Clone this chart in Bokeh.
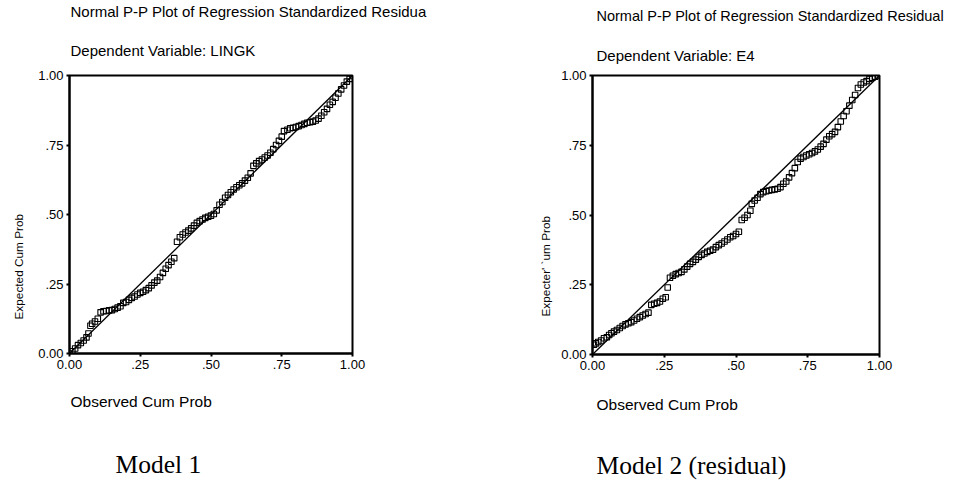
from bokeh.plotting import figure
from bokeh.layouts import row
from bokeh.models import Range1d, FixedTicker, Title
from bokeh.embed import file_html
from bokeh.resources import INLINE

# ---- data ----
ticks = [0.0, 0.25, 0.5, 0.75, 1.0]
tick_labels = ["0.00", ".25", ".50", ".75", "1.00"]
diag = [0.0, 1.0]

m1_obs = [0.000, 0.010, 0.020, 0.030, 0.040, 0.050, 0.060, 0.067, 0.074, 0.080,
          0.090, 0.100, 0.110, 0.120, 0.130, 0.140, 0.150, 0.160, 0.170, 0.180,
          0.190, 0.200, 0.210, 0.220, 0.230, 0.240, 0.250, 0.260, 0.270, 0.280,
          0.290, 0.300, 0.310, 0.320, 0.330, 0.340, 0.350, 0.360, 0.370, 0.380,
          0.390, 0.400, 0.410, 0.420, 0.430, 0.440, 0.450, 0.460, 0.470, 0.480,
          0.490, 0.500, 0.510, 0.520, 0.530, 0.540, 0.550, 0.560, 0.570, 0.580,
          0.590, 0.600, 0.610, 0.620, 0.630, 0.640, 0.650, 0.660, 0.670, 0.680,
          0.690, 0.700, 0.710, 0.720, 0.730, 0.740, 0.750, 0.758, 0.770, 0.780,
          0.790, 0.800, 0.810, 0.820, 0.830, 0.840, 0.850, 0.860, 0.870, 0.880,
          0.890, 0.900, 0.910, 0.920, 0.930, 0.940, 0.950, 0.960, 0.970, 0.980,
          0.990, 1.000]
m1_exp = [0.000, 0.008, 0.018, 0.030, 0.038, 0.047, 0.058, 0.072, 0.100, 0.107,
          0.115, 0.125, 0.148, 0.152, 0.153, 0.155, 0.156, 0.160, 0.165, 0.170,
          0.182, 0.185, 0.193, 0.200, 0.205, 0.212, 0.218, 0.222, 0.228, 0.235,
          0.245, 0.255, 0.262, 0.275, 0.290, 0.305, 0.318, 0.330, 0.343, 0.402,
          0.418, 0.428, 0.435, 0.442, 0.450, 0.460, 0.470, 0.476, 0.482, 0.488,
          0.492, 0.496, 0.502, 0.515, 0.535, 0.545, 0.560, 0.570, 0.580, 0.590,
          0.598, 0.605, 0.612, 0.622, 0.632, 0.648, 0.675, 0.684, 0.692, 0.698,
          0.705, 0.712, 0.722, 0.735, 0.750, 0.765, 0.780, 0.800, 0.805, 0.810,
          0.812, 0.815, 0.818, 0.822, 0.826, 0.830, 0.832, 0.834, 0.838, 0.845,
          0.855, 0.868, 0.880, 0.895, 0.905, 0.920, 0.935, 0.950, 0.964, 0.978,
          0.988, 0.998]

m2_obs = [0.005, 0.012, 0.020, 0.030, 0.040, 0.050, 0.058, 0.066, 0.075, 0.085,
          0.095, 0.105, 0.115, 0.125, 0.135, 0.145, 0.155, 0.165, 0.175, 0.185,
          0.195, 0.205, 0.215, 0.225, 0.235, 0.245, 0.255, 0.262, 0.270, 0.280,
          0.290, 0.300, 0.310, 0.320, 0.330, 0.340, 0.350, 0.360, 0.370, 0.380,
          0.390, 0.400, 0.410, 0.420, 0.430, 0.440, 0.450, 0.460, 0.470, 0.480,
          0.490, 0.500, 0.510, 0.520, 0.530, 0.540, 0.550, 0.555, 0.565, 0.575,
          0.585, 0.595, 0.605, 0.615, 0.625, 0.635, 0.645, 0.655, 0.665, 0.675,
          0.685, 0.695, 0.705, 0.715, 0.725, 0.735, 0.745, 0.755, 0.765, 0.775,
          0.785, 0.795, 0.805, 0.815, 0.825, 0.835, 0.845, 0.855, 0.865, 0.875,
          0.885, 0.895, 0.905, 0.915, 0.925, 0.935, 0.945, 0.955, 0.965, 0.975,
          0.985, 0.995]
m2_exp = [0.035, 0.040, 0.045, 0.050, 0.058, 0.062, 0.070, 0.076, 0.082, 0.088,
          0.095, 0.102, 0.108, 0.112, 0.116, 0.122, 0.128, 0.134, 0.140, 0.145,
          0.150, 0.178, 0.182, 0.185, 0.190, 0.200, 0.205, 0.240, 0.275, 0.282,
          0.288, 0.292, 0.296, 0.305, 0.315, 0.325, 0.332, 0.340, 0.350, 0.357,
          0.362, 0.368, 0.372, 0.376, 0.385, 0.392, 0.398, 0.405, 0.412, 0.420,
          0.425, 0.432, 0.440, 0.482, 0.490, 0.500, 0.515, 0.540, 0.552, 0.562,
          0.575, 0.582, 0.585, 0.588, 0.590, 0.592, 0.594, 0.600, 0.612, 0.620,
          0.635, 0.650, 0.668, 0.690, 0.702, 0.708, 0.713, 0.718, 0.722, 0.728,
          0.735, 0.745, 0.755, 0.770, 0.782, 0.790, 0.798, 0.815, 0.835, 0.855,
          0.872, 0.892, 0.912, 0.930, 0.955, 0.968, 0.975, 0.980, 0.988, 0.992,
          0.996, 1.000]

SANS = "Liberation Sans"
SERIF = "Liberation Serif"


def ttl(text, size, font=SANS, offset=0, standoff=0, align="left", valign="bottom"):
    return Title(text=text, text_font=font, text_font_size=size,
                 text_font_style="normal", text_color="black",
                 align=align, vertical_align=valign, offset=offset, standoff=standoff)


def make_panel(obs, exp, title1, title2, ylab, model, fw, fh, br,
               t_off, ylab_off, model_off, t1_size,
               s_t1, s_t2, s_ylab, s_xlab, s_model):
    p = figure(frame_width=fw, frame_height=fh,
               min_border_left=0, min_border_top=0, min_border_right=br,
               min_border_bottom=0,
               x_range=Range1d(0, 1), y_range=Range1d(0, 1),
               output_backend="svg", toolbar_location=None,
               background_fill_color="white", border_fill_color="white")
    p.grid.visible = False
    p.outline_line_color = "black"
    p.outline_line_width = 2
    for ax in (p.xaxis[0], p.yaxis[0]):
        ax.ticker = FixedTicker(ticks=ticks)
        ax.major_label_overrides = {t: l for t, l in zip(ticks, tick_labels)}
        ax.axis_line_width = 2
        ax.axis_line_color = "black"
        ax.major_tick_out = 3
        ax.major_tick_in = 0
        ax.major_tick_line_width = 2
        ax.minor_tick_line_color = None
        ax.major_label_text_font = SANS
        ax.major_label_text_font_size = "13px"
        ax.major_label_text_color = "black"
        ax.major_label_standoff = 3
    p.yaxis[0].major_label_orientation = "horizontal"

    p.line(diag, diag, line_color="black", line_width=1.3)
    p.scatter(obs, exp, marker="square", size=5.5, line_color="black",
              line_width=1.1, fill_alpha=0)

    # titles above: first added sits closest to the frame
    p.add_layout(ttl(title2, "15px", offset=t_off, standoff=s_t2), "above")
    p.add_layout(ttl(title1, t1_size, offset=t_off, standoff=s_t1, valign="top"), "above")
    # y label on the left, below-centre like the reference
    p.add_layout(ttl(ylab, "11.8px", offset=ylab_off, standoff=s_ylab), "left")
    # texts below the x axis
    p.add_layout(ttl("Observed Cum Prob", "15.5px", offset=t_off, standoff=s_xlab), "below")
    p.add_layout(ttl(model, "25.5px", font=SERIF, offset=model_off, standoff=s_model), "below")
    return p


p1 = make_panel(m1_obs, m1_exp,
                "Normal P-P Plot of Regression Standardized Residua",
                "Dependent Variable: LINGK",
                "Expected Cum Prob", "Model 1",
                283, 278, 178,
                1, 34, 46, "15px",
                4, 33, 19, 38, 38)
p2 = make_panel(m2_obs, m2_exp,
                "Normal P-P Plot of Regression Standardized Residual",
                "Dependent Variable: E4",
                "Expecter' `um Prob", "Model 2 (residual)",
                287, 279, 66,
                4, 38, 4, "14.5px",
                13, 24, 12, 43, 29)

layout = row(p1, p2)
open("out.html", "w").write(file_html(layout, INLINE))
